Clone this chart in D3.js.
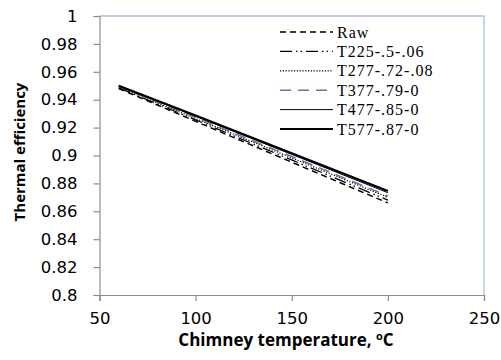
<!DOCTYPE html>
<html>
<head>
<meta charset="utf-8">
<script src="https://cdn.jsdelivr.net/npm/d3@7"></script>
<style>
  body { margin: 0; background: #fff; }
  svg text { fill: #000; }
</style>
</head>
<body>
<script>
var temps = [60, 100, 150, 200]
var raw = [0.948, 0.9245, 0.8952, 0.866]
var t225 = [0.9485, 0.9255, 0.8968, 0.868]
var t277 = [0.949, 0.9265, 0.8983, 0.870]
var t377 = [0.9495, 0.9272, 0.8993, 0.871]
var t477 = [0.9498, 0.9281, 0.9008, 0.8733]
var t577 = [0.950, 0.9287, 0.9016, 0.8745]
var seriesNames = ["Raw", "T225-.5-.06", "T277-.72-.08", "T377-.79-0", "T477-.85-0", "T577-.87-0"]
var xTicks = [50, 100, 150, 200, 250]
var yTicks = [0.8, 0.82, 0.84, 0.86, 0.88, 0.9, 0.92, 0.94, 0.96, 0.98, 1]

var series = [raw, t225, t277, t377, t477, t577]
var styles = [
    { color: "#000", width: 1.5, dash: "6,4" },
    { color: "#000", width: 1.3, dash: "12,4,1.5,3,1.5,4" },
    { color: "#000", width: 1.2, dash: "1.2,1.6" },
    { color: "#7e6aa0", width: 1.5, dash: "11,7" },
    { color: "#000", width: 1, dash: null },
    { color: "#000", width: 2.2, dash: null }
]

function draw() {
    var width = 501, height = 360
    var pLeft = 99.5, pRight = 484, pTop = 16, pBottom = 295

    var svg = d3.select("body")
        .append("svg")
        .attr("width", width)
        .attr("height", height)

    var x = d3.scaleLinear().domain([50, 250]).range([pLeft, pRight])
    var y = d3.scaleLinear().domain([0.8, 1]).range([pBottom, pTop])

    // blue frame on top and right
    svg.append("path")
        .attr("d", "M" + pLeft + "," + pTop + "H" + pRight + "V" + pBottom)
        .attr("fill", "none")
        .attr("stroke", "#a7c2e2")
        .attr("stroke-width", 1.3)

    var xAxis = svg.append("g")
        .attr("transform", "translate(0," + pBottom + ")")
        .call(d3.axisBottom(x).tickValues(xTicks).tickSize(6).tickPadding(11).tickFormat(d3.format("d")))
    var yAxis = svg.append("g")
        .attr("transform", "translate(" + pLeft + ",0)")
        .call(d3.axisLeft(y).tickValues(yTicks).tickSize(6).tickPadding(16).tickFormat(function (d) { return String(+d.toFixed(2)) }))

    ;[xAxis, yAxis].forEach(function (g) {
        g.select(".domain").attr("stroke", "#8c8c8c").attr("stroke-width", 1.2)
        g.selectAll(".tick line").attr("stroke", "#8c8c8c").attr("stroke-width", 1.2)
        g.selectAll(".tick text")
            .attr("font-family", "DejaVu Sans")
            .attr("font-size", 16.5)
            .attr("fill", "#000")
    })

    var line = d3.line()
        .x(function (d, i) { return x(temps[i]) })
        .y(function (d) { return y(d) })

    series.forEach(function (s, i) {
        svg.append("path")
            .datum(s)
            .attr("d", line)
            .attr("fill", "none")
            .attr("stroke", styles[i].color)
            .attr("stroke-width", styles[i].width)
            .attr("stroke-dasharray", styles[i].dash)
    })

    // legend
    var leg = svg.append("g")
    seriesNames.forEach(function (name, i) {
        var ly = 32 + i * 19.4
        leg.append("line")
            .attr("x1", 280).attr("x2", 333)
            .attr("y1", ly).attr("y2", ly)
            .attr("stroke", styles[i].color)
            .attr("stroke-width", styles[i].width)
            .attr("stroke-dasharray", styles[i].dash)
        leg.append("text")
            .attr("x", 337).attr("y", ly)
            .attr("dy", "0.35em")
            .attr("font-family", "Liberation Serif")
            .attr("font-size", 16)
            .attr("letter-spacing", 1)
            .text(name)
    })

    svg.append("text")
        .attr("x", 286)
        .attr("y", 346)
        .attr("text-anchor", "middle")
        .attr("font-family", "Open Sans")
        .attr("font-weight", "bold")
        .attr("font-size", 17)
        .html('Chimney temperature, <tspan font-size="11" dy="-6">o</tspan><tspan dy="6">C</tspan>')

    svg.append("text")
        .attr("transform", "translate(25,152) rotate(-90)")
        .attr("text-anchor", "middle")
        .attr("font-family", "Open Sans")
        .attr("font-weight", "bold")
        .attr("font-size", 15)
        .text("Thermal efficiency")
}

draw()
</script>
</body>
</html>
